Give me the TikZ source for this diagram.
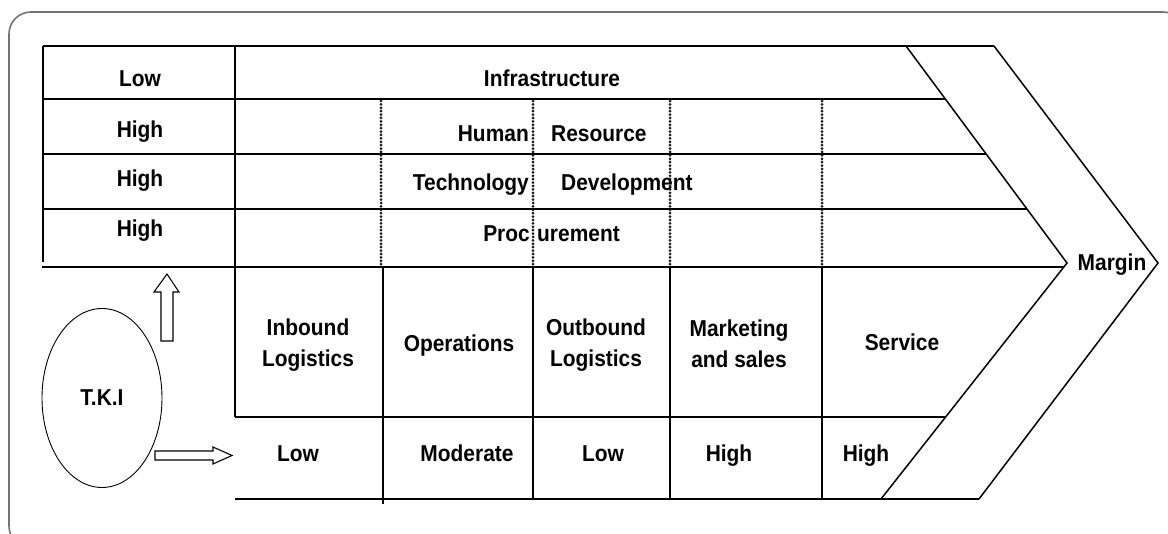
\documentclass[tikz,border=0pt]{standalone}
\usepackage{fontspec}
\setmainfont{Liberation Sans}
\newfontfamily\lblfont[FakeStretch=0.91]{Liberation Sans}
\usetikzlibrary{shapes.geometric}
\begin{document}
\begin{tikzpicture}[x=1pt,y=-1pt,
  ln/.style={line width=1.5pt,black},
  dots/.style={line width=3pt,dash pattern=on 0pt off 3.4pt,line cap=round,black!90},
  lbl/.style={font=\lblfont\fontsize{23}{26}\selectfont\bfseries,inner sep=0pt,anchor=base},
  blk/.style={line width=1.1pt,black,fill=white}]
\useasboundingbox (0,0) rectangle (1168,534);
\begin{scope}
\clip (0,0) rectangle (1168,534);
\draw[line width=1.6pt,black!55,rounded corners=22pt] (9,12) rectangle (1185,548);
\end{scope}
% support activity rows
\draw[ln] (43,46) -- (994,46);
\draw[ln] (43,99) -- (945,99);
\draw[ln] (43,154) -- (986,154);
\draw[ln] (43,209) -- (1027,209);
\draw[ln] (42,267) -- (1064,267);
\draw[ln] (235,417) -- (946,417);
\draw[ln] (235,499) -- (979,499);
\draw[ln] (43,46) -- (43,262);
\draw[ln] (235,46) -- (235,417);
% chevron
\draw[ln] (906,46) -- (1067,263) -- (881,499);
\draw[ln] (994,46) -- (1158,263) -- (979,499);
% dotted separators
\foreach \x in {381,533,670,822} \draw[dots] (\x,101) -- (\x,265);
% primary activity separators
\draw[ln] (383,267) -- (383,504);
\foreach \x in {533,670,822} \draw[ln] (\x,267) -- (\x,499);
% left column labels
\node[lbl] (l1) at (140,87) {Low};
\node[lbl] (l2) at (140,138) {High};
\node[lbl] (l3) at (140,187) {High};
\node[lbl] (l4) at (140,237) {High};
% support labels
\node[lbl] (infra) at (552,87) {Infrastructure};
\node[lbl,anchor=base east] (hr1) at (529,142) {Human};
\node[lbl,anchor=base west] (hr2) at (551,142) {Resource};
\node[lbl,anchor=base east] (td1) at (529,191) {Technology};
\node[lbl,anchor=base west] (td2) at (561,191) {Development};
\node[lbl,anchor=base east] (pr1) at (530,242) {Proc};
\node[lbl,anchor=base west] (pr2) at (537,242) {urement};
% primary labels
\node[lbl] (inb1) at (308,336) {Inbound};
\node[lbl] (inb2) at (308,367) {Logistics};
\node[lbl] (ops) at (459,352) {Operations};
\node[lbl] (outb1) at (596,336) {Outbound};
\node[lbl] (outb2) at (596,367) {Logistics};
\node[lbl] (mkt1) at (739,337) {Marketing};
\node[lbl] (mkt2) at (739,368) {and sales};
\node[lbl] (srv) at (902,351) {Service};
% bottom ratings
\node[lbl] (b1) at (298,462) {Low};
\node[lbl] (b2) at (467,462) {Moderate};
\node[lbl] (b3) at (603,462) {Low};
\node[lbl] (b4) at (729,462) {High};
\node[lbl] (b5) at (866,462) {High};
% margin
\node[lbl] (margin) at (1112,271) {Margin};
% TKI ellipse
\node[draw,line width=0.9pt,ellipse,minimum width=120pt,minimum height=179pt,inner sep=0pt] (tki) at (102,398) {};
\node[lbl] (tkilbl) at (102,406) {T.K.I};
% block arrows
\draw[blk] (161,341) -- (161,292) -- (154,292) -- (167,274) -- (179,292) -- (173,292) -- (173,341) -- cycle;
\draw[blk] (155,451) -- (213,451) -- (213,447) -- (232,455.5) -- (213,464) -- (213,460) -- (155,460) -- cycle;
\end{tikzpicture}
\end{document}
